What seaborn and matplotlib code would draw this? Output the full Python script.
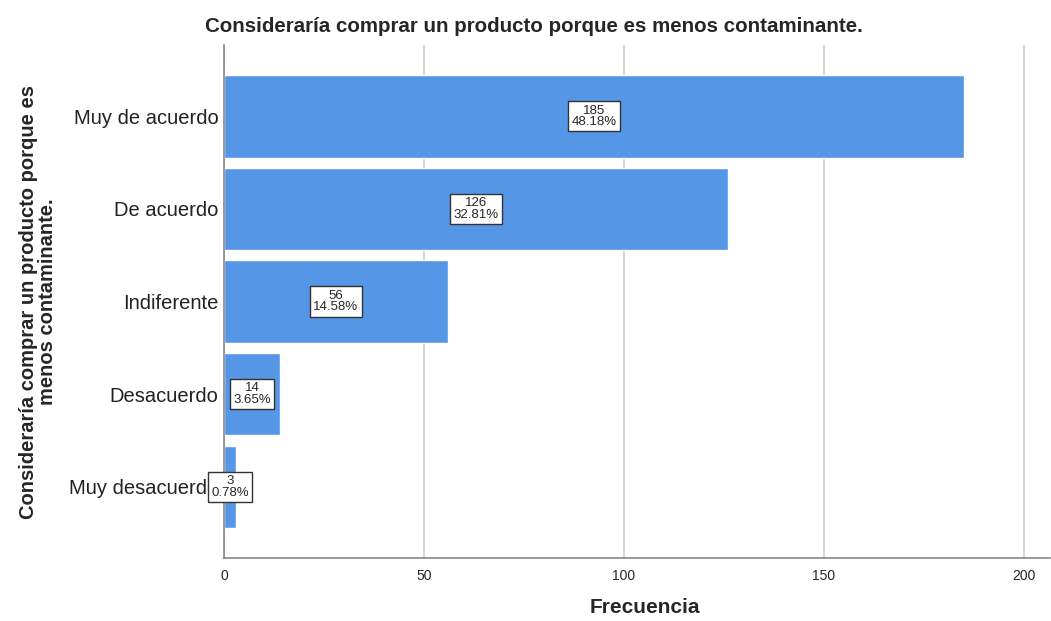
import matplotlib
matplotlib.use("Agg")
import matplotlib.pyplot as plt
import seaborn as sns
import pandas as pd

categorias = ["Muy de acuerdo", "De acuerdo", "Indiferente", "Desacuerdo", "Muy desacuerdo"]
frecuencias = [185, 126, 56, 14, 3]
porcentajes = [48.18, 32.81, 14.58, 3.65, 0.78]
ticks_x = [0, 50, 100, 150, 200]

df = pd.DataFrame({"categoria": categorias, "frecuencia": frecuencias, "porcentaje": porcentajes})

sns.set_theme(style="white")
plt.rcParams["font.family"] = ["Liberation Sans", "DejaVu Sans"]

fig = plt.figure(figsize=(10.51, 6.21), dpi=100)
ax = fig.add_axes([0.2131, 0.1014, 0.786, 0.8261])

sns.barplot(data=df, x="frecuencia", y="categoria", order=categorias, orient="h",
            color="#5596E6", saturation=1, width=0.89, ax=ax, zorder=2)

ax.set_xlim(0, 206.5)
ax.set_ylim(4.77, -0.77)
ax.set_xticks(ticks_x)
ax.set_xticklabels([str(t) for t in ticks_x], fontsize=10)
ax.tick_params(axis="y", labelsize=14.5, length=0, pad=4)
ax.tick_params(axis="x", length=0, pad=8)
for lbl in ax.get_yticklabels():
    lbl.set_color("#222222")

ax.grid(axis="x", color="#cccccc", linewidth=1.2, zorder=0)
ax.grid(axis="y", visible=False)
ax.set_axisbelow(True)

for side in ["top", "right"]:
    ax.spines[side].set_visible(False)
for side in ["left", "bottom"]:
    ax.spines[side].set_color("#888888")
    ax.spines[side].set_linewidth(1.2)

ax.set_xlabel("Frecuencia", fontsize=15, fontweight="bold")
ax.xaxis.set_label_coords(0.5097, -0.078)
ax.set_ylabel("Consideraría comprar un producto porque es\nmenos contaminante.",
              fontsize=14.5, fontweight="bold", linespacing=1.0)
ax.yaxis.set_label_coords(-0.202, 0.5)
fig.suptitle("Consideraría comprar un producto porque es menos contaminante.",
             x=0.508, y=0.957, va="center", fontsize=14.8, fontweight="bold")

for i, (f, p) in enumerate(zip(frecuencias, porcentajes)):
    ax.text(f / 2, i, f"{f}\n{p:.2f}%", ha="center", va="center", fontsize=9.5,
            linespacing=0.95, zorder=5, clip_on=False,
            bbox=dict(boxstyle="square,pad=0.25", facecolor="white",
                      edgecolor="#333333", linewidth=1.0))

fig.savefig("out.png", dpi=100)
